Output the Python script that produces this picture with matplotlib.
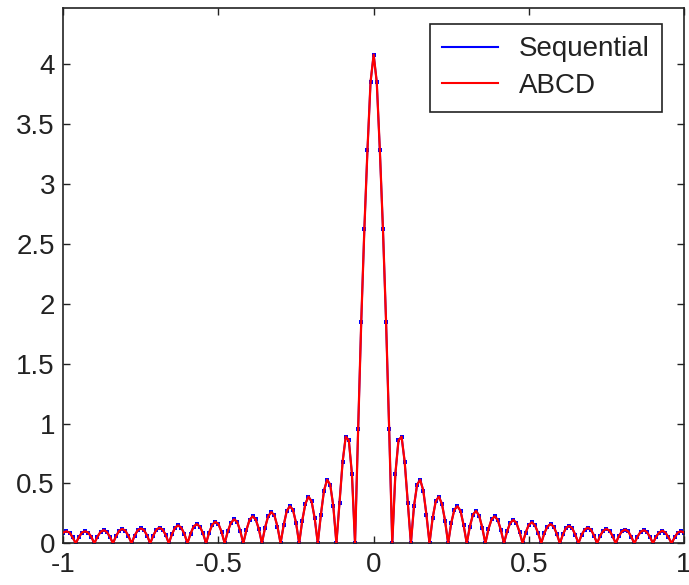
import numpy as np
import matplotlib
matplotlib.use("Agg")
import matplotlib.pyplot as plt

plt.rcParams['font.family'] = ['Liberation Sans', 'DejaVu Sans']

# sample grid: -1 .. 1 in steps of 0.01
x_start, x_stop, n_samples = -1.0, 1.0, 201

# values, x = -1.00 ... -0.01
left_vals = [
    0.09, 0.10, 0.09, 0.05, 0.0,
    0.05, 0.09, 0.10, 0.09, 0.055, 0.0,
    0.055, 0.095, 0.11, 0.095, 0.055, 0.0,
    0.06, 0.105, 0.12, 0.105, 0.06, 0.0,
    0.065, 0.11, 0.125, 0.11, 0.065, 0.0,
    0.065, 0.115, 0.13, 0.115, 0.07, 0.0,
    0.075, 0.13, 0.15, 0.13, 0.08, 0.0,
    0.08, 0.14, 0.16, 0.14, 0.085, 0.0,
    0.09, 0.155, 0.18, 0.16, 0.095, 0.0,
    0.10, 0.17, 0.20, 0.18, 0.105, 0.0,
    0.11, 0.195, 0.225, 0.20, 0.12, 0.0,
    0.13, 0.225, 0.26, 0.235, 0.14, 0.0,
    0.15, 0.27, 0.31, 0.28, 0.17, 0.0,
    0.19, 0.33, 0.39, 0.35, 0.21, 0.0,
    0.24, 0.44, 0.53, 0.49, 0.31, 0.0,
    0.34, 0.68, 0.89, 0.86, 0.58, 0.0,
    0.95, 1.85, 2.62, 3.28, 3.85,
]
# values, x = 0.00 ... 1.00
right_vals = [
    4.08, 3.85, 3.28, 2.62, 1.85, 0.95, 0.0,
    0.58, 0.86, 0.89, 0.68, 0.34, 0.0,
    0.31, 0.49, 0.53, 0.44, 0.24, 0.0,
    0.21, 0.35, 0.39, 0.33, 0.19, 0.0,
    0.17, 0.28, 0.31, 0.27, 0.15, 0.0,
    0.14, 0.24, 0.27, 0.23, 0.13, 0.0,
    0.12, 0.20, 0.225, 0.195, 0.11, 0.0,
    0.10, 0.17, 0.195, 0.17, 0.095, 0.0,
    0.09, 0.155, 0.175, 0.15, 0.085, 0.0,
    0.085, 0.14, 0.16, 0.14, 0.08, 0.0,
    0.075, 0.13, 0.145, 0.125, 0.07, 0.0,
    0.07, 0.115, 0.13, 0.115, 0.065, 0.0,
    0.065, 0.105, 0.12, 0.105, 0.06, 0.0,
    0.06, 0.10, 0.115, 0.10, 0.055, 0.0,
    0.055, 0.095, 0.11, 0.095, 0.055, 0.0,
    0.055, 0.09, 0.105, 0.09, 0.05, 0.0,
    0.05, 0.09, 0.10, 0.09,
]

sequential_vals = left_vals + right_vals
abcd_vals = list(sequential_vals)

series_labels = ['Sequential', 'ABCD']
xtick_vals = [-1, -0.5, 0, 0.5, 1]
xtick_labels = ['-1', '-0.5', '0', '0.5', '1']
ytick_vals = [0, 0.5, 1, 1.5, 2, 2.5, 3, 3.5, 4]
ytick_labels = ['0', '0.5', '1', '1.5', '2', '2.5', '3', '3.5', '4']

x = np.linspace(x_start, x_stop, n_samples)

W, H = 689, 585
fig = plt.figure(figsize=(W / 100, H / 100), dpi=100)
ax = fig.add_axes([63.3 / W, 1 - 543.3 / H, (684 - 63.3) / W, (543.3 - 8.3) / H])

ax.plot(x, sequential_vals, color=(0, 0, 1), lw=1.4, marker='s', ms=2.5,
        markeredgewidth=0, label=series_labels[0], zorder=2)
ax.plot(x, abcd_vals, color=(1, 0, 0), lw=1.6, label=series_labels[1], zorder=3)

ax.set_xlim(-1, 1)
ax.set_ylim(0, 4.466)
ax.set_xticks(xtick_vals)
ax.set_xticklabels(xtick_labels)
ax.set_yticks(ytick_vals)
ax.set_yticklabels(ytick_labels)

ax.tick_params(direction='in', length=5, width=1, top=True, right=True,
               labelsize=20, colors='#222222', pad=6)
for s in ax.spines.values():
    s.set_linewidth(1.2)
    s.set_color('#222222')

leg = ax.legend(loc='upper right', bbox_to_anchor=(662 / W, 1 - 24 / H),
                bbox_transform=fig.transFigure, borderaxespad=0,
                fontsize=20, frameon=True, fancybox=False, framealpha=1,
                edgecolor='#222222', handlelength=2.0, handletextpad=0.75,
                labelspacing=0.38, borderpad=0.45)
leg.get_frame().set_linewidth(1.2)
for t in leg.get_texts():
    t.set_color('#222222')
for h in leg.legend_handles:
    h.set_marker('')
    h.set_linewidth(1.5)

fig.savefig('out.png', dpi=100)
